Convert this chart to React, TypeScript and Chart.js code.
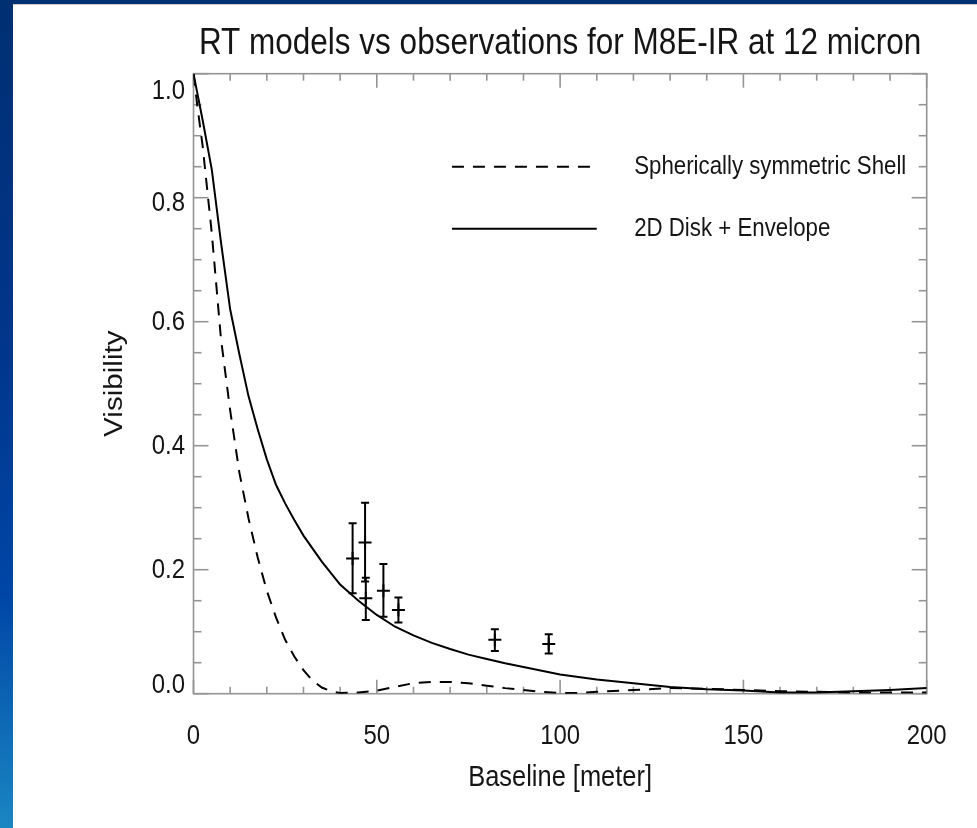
import React, { useEffect, useRef } from 'react';
import { Chart, registerables } from 'chart.js';

Chart.register(...registerables);

const FONT = "'Liberation Sans', Arial, Helvetica, sans-serif";
// the reference text is Helvetica squeezed horizontally
const TEXT_SQUEEZE = 0.84;

const TITLE = 'RT models vs observations for M8E-IR at 12 micron';
const X_TITLE = 'Baseline [meter]';
const Y_TITLE = 'Visibility';

const shellLabel = 'Spherically symmetric Shell';
const diskLabel = '2D Disk + Envelope';

// Model: spherically symmetric shell (dashed)
const shellX = [0, 1, 2.5, 5, 7.5, 10, 12.5, 15, 17.5, 20, 22.5, 25, 27.5, 30, 32.5, 35, 37.5, 40, 45, 50, 55, 60, 65, 70, 75, 80, 85, 90, 95, 100, 105, 110, 120, 130, 140, 150, 160, 170, 180, 190, 200];
const shellY = [1.0, 0.95, 0.883, 0.742, 0.572, 0.457, 0.357, 0.283, 0.22, 0.166, 0.123, 0.087, 0.06, 0.038, 0.021, 0.01, 0.004, 0.001, 0.002, 0.005, 0.011, 0.017, 0.019, 0.019, 0.017, 0.013, 0.009, 0.006, 0.003, 0.001, 0.001, 0.003, 0.006, 0.009, 0.008, 0.006, 0.004, 0.003, 0.002, 0.002, 0.002];

// Model: 2D disk + envelope (solid)
const diskX = [0, 2.5, 5, 7.5, 10, 12.5, 15, 17.5, 20, 22.5, 25, 27.5, 30, 35, 40, 45, 50, 55, 60, 65, 70, 75, 80, 85, 90, 95, 100, 110, 120, 130, 140, 150, 160, 170, 180, 190, 200];
const diskY = [1.0, 0.925, 0.845, 0.728, 0.62, 0.548, 0.48, 0.427, 0.378, 0.337, 0.307, 0.28, 0.255, 0.213, 0.176, 0.15, 0.127, 0.108, 0.094, 0.082, 0.072, 0.063, 0.056, 0.049, 0.043, 0.037, 0.031, 0.023, 0.017, 0.011, 0.007, 0.005, 0.002, 0.002, 0.004, 0.006, 0.009];

// Observations with error bars
const obsX = [43.4, 46.8, 47.0, 51.8, 55.9, 82.2, 96.9];
const obsY = [0.218, 0.244, 0.154, 0.166, 0.135, 0.087, 0.08];
const obsLo = [0.162, 0.181, 0.119, 0.124, 0.115, 0.069, 0.065];
const obsHi = [0.275, 0.308, 0.187, 0.209, 0.155, 0.104, 0.096];

// Ticks
const xTickValues = [0, 50, 100, 150, 200];
const xTickLabels = ['0', '50', '100', '150', '200'];
const xMinorTicks = [10, 20, 30, 40, 60, 70, 80, 90, 110, 120, 130, 140, 160, 170, 180, 190];
const yTickValues = [0, 0.2, 0.4, 0.6, 0.8, 1.0];
const yTickLabels = ['0.0', '0.2', '0.4', '0.6', '0.8', '1.0'];
const yMinorTicks = [0.05, 0.1, 0.15, 0.25, 0.3, 0.35, 0.45, 0.5, 0.55, 0.65, 0.7, 0.75, 0.85, 0.9, 0.95];
// vertical nudge of y tick labels (px, + = down)
const yLabelShift = [-9, 0, 0, 0, 5, 17];

// Legend anchors in data space
const legendRowsY = [0.85, 0.75];
const legendLineX = [70.5, 110];
const legendTextX = [120.2];

const AXIS_COLOR = '#949494';
const TEXT_COLOR = '#151515';

const framePlugin = {
  id: 'frameTicks',
  beforeDatasetsDraw(chart: any) {
    const { ctx, chartArea: a, scales } = chart;
    const x = scales.x;
    const y = scales.y;
    ctx.save();
    ctx.strokeStyle = AXIS_COLOR;
    ctx.lineWidth = 1.6;
    ctx.strokeRect(a.left, a.top, a.right - a.left, a.bottom - a.top);
    const seg = (x1: number, y1: number, x2: number, y2: number) => {
      ctx.beginPath();
      ctx.moveTo(x1, y1);
      ctx.lineTo(x2, y2);
      ctx.stroke();
    };
    xTickValues.forEach((v) => {
      const p = x.getPixelForValue(v);
      seg(p, a.bottom, p, a.bottom - 14);
      seg(p, a.top, p, a.top + 14);
    });
    xMinorTicks.forEach((v) => {
      const p = x.getPixelForValue(v);
      seg(p, a.bottom, p, a.bottom - 7);
      seg(p, a.top, p, a.top + 7);
    });
    yTickValues.forEach((v) => {
      const p = y.getPixelForValue(v);
      seg(a.left, p, a.left + 15, p);
      seg(a.right, p, a.right - 15, p);
    });
    yMinorTicks.forEach((v) => {
      const p = y.getPixelForValue(v);
      seg(a.left, p, a.left + 8, p);
      seg(a.right, p, a.right - 8, p);
    });
    ctx.restore();
  },
};

const errorBarPlugin = {
  id: 'errorBars',
  afterDatasetsDraw(chart: any) {
    const { ctx, scales } = chart;
    const x = scales.x;
    const y = scales.y;
    ctx.save();
    ctx.strokeStyle = '#000';
    ctx.lineWidth = 2;
    obsX.forEach((v, i) => {
      const px = x.getPixelForValue(v);
      const top = y.getPixelForValue(obsHi[i]);
      const bot = y.getPixelForValue(obsLo[i]);
      ctx.beginPath();
      ctx.moveTo(px, top);
      ctx.lineTo(px, bot);
      ctx.moveTo(px - 4, top);
      ctx.lineTo(px + 4, top);
      ctx.moveTo(px - 4, bot);
      ctx.lineTo(px + 4, bot);
      ctx.stroke();
    });
    ctx.restore();
  },
};

const insetLegendPlugin = {
  id: 'insetLegend',
  afterDraw(chart: any) {
    const { ctx, scales } = chart;
    const x = scales.x;
    const y = scales.y;
    const ds = chart.data.datasets;
    [0, 1].forEach((di, row) => {
      const d = ds[di];
      const yy = y.getPixelForValue(legendRowsY[row]);
      ctx.save();
      ctx.strokeStyle = d.borderColor;
      ctx.lineWidth = d.borderWidth;
      ctx.setLineDash(d.borderDash || []);
      ctx.beginPath();
      ctx.moveTo(x.getPixelForValue(legendLineX[0]), yy);
      ctx.lineTo(x.getPixelForValue(legendLineX[1]), yy);
      ctx.stroke();
      ctx.setLineDash([]);
      ctx.fillStyle = TEXT_COLOR;
      ctx.font = `26.5px ${FONT}`;
      ctx.textBaseline = 'middle';
      ctx.textAlign = 'left';
      ctx.fillText(d.label, x.getPixelForValue(legendTextX[0]), yy);
      ctx.restore();
    });
  },
};

// Draw every text squeezed horizontally (in device space) about its anchor point.
function squeezeText(ctx: CanvasRenderingContext2D) {
  const orig = ctx.fillText;
  (ctx as any).fillText = function (text: string, x: number, y: number) {
    const m = ctx.getTransform();
    const px = m.a * x + m.c * y + m.e;
    const s = new DOMMatrix().translate(px, 0).scale(TEXT_SQUEEZE, 1).translate(-px, 0).multiply(m);
    ctx.setTransform(s);
    orig.call(ctx, text, x, y);
    ctx.setTransform(m);
  };
  return () => {
    (ctx as any).fillText = orig;
  };
}

export default function App() {
  const ref = useRef<HTMLCanvasElement>(null);

  useEffect(() => {
    const canvas = ref.current;
    if (!canvas) return;
    const c2d = canvas.getContext('2d');
    const unsqueeze = c2d ? squeezeText(c2d) : () => {};
    const chart = new Chart(canvas, {
      type: 'scatter',
      data: {
        datasets: [
          {
            label: shellLabel,
            data: shellX.map((v, i) => ({ x: v, y: shellY[i] })),
            showLine: true,
            borderColor: '#000',
            borderWidth: 2,
            borderDash: [12, 9],
            pointRadius: 0,
            fill: false,
            tension: 0,
          },
          {
            label: diskLabel,
            data: diskX.map((v, i) => ({ x: v, y: diskY[i] })),
            showLine: true,
            borderColor: '#000',
            borderWidth: 2,
            borderDash: [],
            pointRadius: 0,
            fill: false,
            tension: 0,
          },
          {
            label: 'Observations',
            data: obsX.map((v, i) => ({ x: v, y: obsY[i] })),
            showLine: false,
            pointStyle: 'cross',
            pointRadius: 6.5,
            borderColor: '#000',
            backgroundColor: '#000',
            borderWidth: 2,
          },
        ],
      } as any,
      options: {
        responsive: false,
        maintainAspectRatio: false,
        animation: false,
        devicePixelRatio: 1,
        layout: { padding: { left: 0, top: 0, right: 50.3, bottom: 0 } },
        plugins: {
          legend: { display: false },
          tooltip: { enabled: false },
          title: {
            display: true,
            text: TITLE,
            fullSize: false,
            color: TEXT_COLOR,
            font: { family: FONT, size: 37.5, weight: 'normal' },
            padding: { top: 20.7, bottom: 8.0 },
          },
        },
        scales: {
          x: {
            type: 'linear',
            position: 'bottom',
            min: 0,
            max: 200,
            afterBuildTicks: (s: any) => {
              s.ticks = xTickValues.map((v) => ({ value: v }));
            },
            afterFit: (s: any) => {
              s.height = 134.3;
            },
            grid: { display: false, drawTicks: false },
            border: { display: false },
            ticks: {
              padding: 25.7,
              color: TEXT_COLOR,
              autoSkip: false,
              maxRotation: 0,
              font: { family: FONT, size: 28.5 },
              callback: (_v: any, i: number) => xTickLabels[i],
            },
            title: {
              display: true,
              text: X_TITLE,
              color: TEXT_COLOR,
              font: { family: FONT, size: 30.3 },
              padding: { top: 0, bottom: 31.8 },
            },
          },
          y: {
            type: 'linear',
            position: 'left',
            min: 0,
            max: 1,
            afterBuildTicks: (s: any) => {
              s.ticks = yTickValues.map((v) => ({ value: v }));
            },
            afterFit: (s: any) => {
              s.width = 193.5;
            },
            grid: { display: false, drawTicks: false },
            border: { display: false },
            ticks: {
              padding: 8.5,
              color: TEXT_COLOR,
              autoSkip: false,
              font: (c: any) => {
                const i = c && typeof c.index === 'number' ? c.index : -1;
                const sh = i >= 0 ? Math.abs(yLabelShift[i] || 0) : 0;
                return { family: FONT, size: 28.5, lineHeight: sh > 0 ? `${sh * 2}px` : 1.2 };
              },
              callback: (_v: any, i: number) => {
                const sh = yLabelShift[i] || 0;
                if (sh > 0) return ['', yTickLabels[i]];
                if (sh < 0) return [yTickLabels[i], ''];
                return yTickLabels[i];
              },
            },
            title: {
              display: true,
              text: Y_TITLE,
              color: TEXT_COLOR,
              font: { family: FONT, size: 29.6 },
              padding: { top: 97.7, bottom: 0 },
            },
          },
        },
      } as any,
      plugins: [framePlugin, errorBarPlugin, insetLegendPlugin],
    });
    return () => {
      chart.destroy();
      unsqueeze();
    };
  }, []);

  return (
    <div
      style={{
        position: 'fixed',
        left: 0,
        top: 0,
        width: 977,
        height: 828,
        overflow: 'hidden',
        background: 'linear-gradient(180deg, #002f72 0%, #00358a 40%, #0046a6 72%, #1a86c2 100%)',
      }}
    >
      <div
        style={{
          position: 'absolute',
          left: 13,
          top: 4,
          right: 0,
          bottom: 0,
          background: '#ffffff',
          borderTop: '1px solid #c8c8c8',
        }}
      />
      <canvas
        ref={ref}
        width={977}
        height={828}
        style={{ position: 'absolute', left: 0, top: 0, width: 977, height: 828 }}
      />
    </div>
  );
}
